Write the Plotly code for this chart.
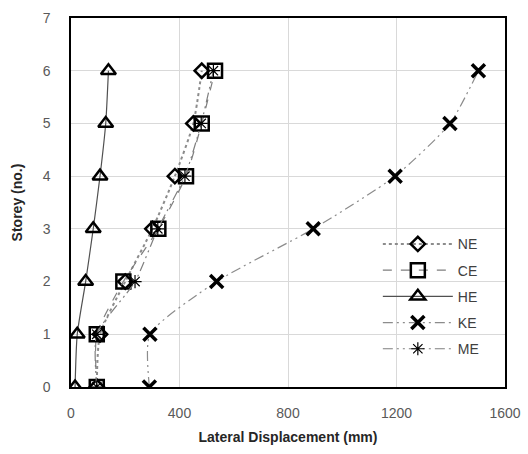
import plotly.graph_objects as go

storey = [0, 1, 2, 3, 4, 5, 6]
ne = [95, 107, 200, 300, 383, 451, 482]
ce = [95, 95, 193, 322, 424, 482, 531]
he = [15, 23, 54, 82, 107, 128, 138]
ke = [289, 291, 537, 893, 1195, 1397, 1502]
me = [95, 95, 236, 320, 420, 480, 525]

x_ticks = [0, 400, 800, 1200, 1600]
y_ticks = [0, 1, 2, 3, 4, 5, 6, 7]

series = [
    ("NE", ne, "diamond-open", 11, 2.5, "dot", "#8c8c8c", 2),
    ("CE", ce, "square-open", 14, 2.5, "dash", "#7f7f7f", 1.2),
    ("HE", he, "triangle-up-open", 13, 2.5, "solid", "#505050", 1.2),
    ("KE", ke, "x-thin", 13, 3.5, "10px,4px,2px,4px,2px,4px", "#8c8c8c", 1.2),
    ("ME", me, "asterisk", 11, 1.2, "10px,4px,2px,4px,2px,4px", "#7f7f7f", 1.2),
]

fig = go.Figure()
for i, (name, xs, sym, size, mlw, dash, lc, lw) in enumerate(series):
    fig.add_trace(go.Scatter(
        x=xs, y=storey, name=name, mode="lines+markers",
        legendgroup=name,
        line=dict(color=lc, width=lw, dash=dash, shape="spline", smoothing=0.6),
        marker=dict(symbol=sym, size=size, color="black",
                    line=dict(color="black", width=mlw)),
    ))

fig.update_layout(
    width=528, height=454,
    margin=dict(l=71, r=23, t=18, b=67),
    paper_bgcolor="white", plot_bgcolor="white",
    font=dict(family="Liberation Sans, Arial, sans-serif", size=14, color="#595959"),
    legend=dict(x=0.707, y=0.43, xanchor="left", yanchor="top",
                bgcolor="rgba(0,0,0,0)", traceorder="grouped", tracegroupgap=5,
                itemwidth=70, font=dict(size=14, color="#404040")),
    xaxis=dict(range=[0, 1600], tickvals=x_ticks, ticktext=[str(v) for v in x_ticks],
               showgrid=True, gridcolor="#d9d9d9", gridwidth=1,
               showline=True, linecolor="black", linewidth=1.5, mirror=True,
               ticks="", zeroline=False, automargin=False, ticklabelstandoff=12,
               title=dict(text="<b>Lateral Displacement (mm)</b>", standoff=13,
                          font=dict(size=14, color="#262626"))),
    yaxis=dict(range=[0, 7], tickvals=y_ticks, ticktext=[str(v) for v in y_ticks],
               showgrid=True, gridcolor="#d9d9d9", gridwidth=1,
               showline=True, linecolor="black", linewidth=1.5, mirror=True,
               ticks="", zeroline=False, automargin=False, ticklabelstandoff=16,
               title=dict(text="<b>Storey (no.)</b>", standoff=17,
                          font=dict(size=14, color="#262626"))),
)

fig.write_html("out.html", config={"displayModeBar": False},
               post_script="document.body.style.margin='0';")
